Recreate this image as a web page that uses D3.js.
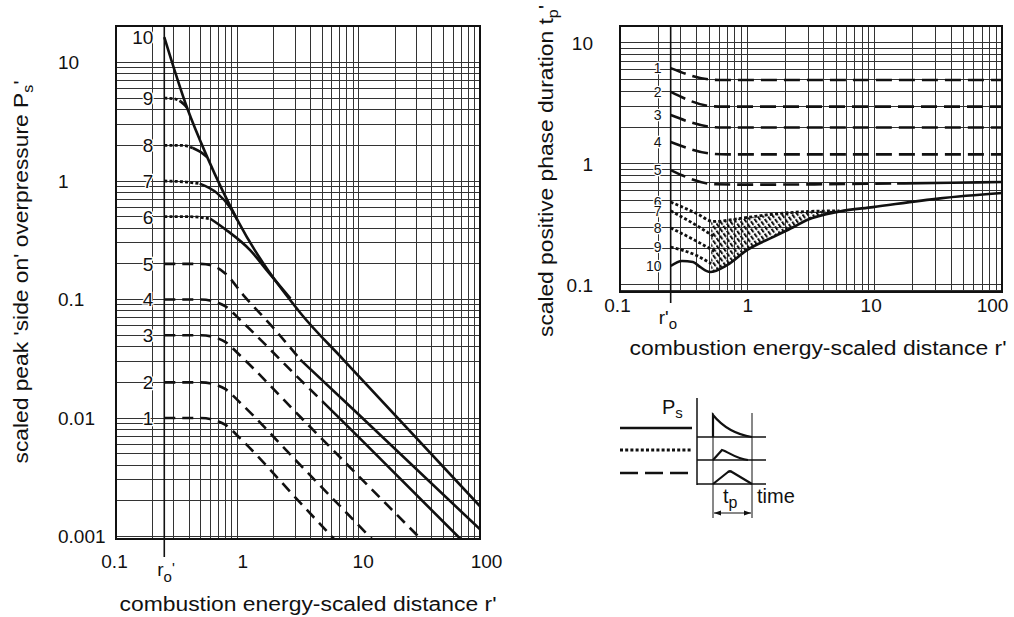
<!DOCTYPE html>
<html>
<head>
<meta charset="utf-8">
<script src="https://cdn.jsdelivr.net/npm/d3@7"></script>
<style>
  body { margin: 0; background: #fff; }
  svg { font-family: "Liberation Sans", Arial, sans-serif; }
</style>
</head>
<body>
<svg id="chart" width="1014" height="617"></svg>
<script>
// Axis ticks
const distTicks = [0.1, 1, 10, 100];
const psTicks = [10, 1, 0.1, 0.01, 0.001];
const tpTicks = [10, 1, 0.1];
const r0 = 0.25;

// Blast strength numbers and where each curve starts (at r0')
const strengths = ["1", "2", "3", "4", "5", "6", "7", "8", "9", "10"];
const psStart = [0.01, 0.02, 0.05, 0.1, 0.2, 0.5, 1, 2, 5, 16.4];
const tpStart = [6.2, 3.94, 2.54, 1.52, 0.89, 0.485, 0.41, 0.296, 0.206, 0.1435];

// Peak overpressure, [r', Ps'] — dashed parts (strength 1..5)
const psDashed = [
  [[0.25, 0.01], [0.5, 0.01], [0.65, 0.0096], [0.8, 0.00875], [1.06, 0.0067], [3.31, 0.00192], [8, 0.00073]],
  [[0.25, 0.02], [0.5, 0.02], [0.65, 0.0192], [0.8, 0.0175], [1.06, 0.0134], [3.31, 0.004], [15, 0.00081]],
  [[0.25, 0.05], [0.5, 0.05], [0.65, 0.048], [0.8, 0.0437], [1.06, 0.0335], [3.31, 0.0102], [40, 0.00077]],
  [[0.25, 0.1], [0.5, 0.1], [0.65, 0.096], [0.8, 0.0875], [1.06, 0.067], [3.31, 0.021], [5, 0.0139]],
  [[0.25, 0.2], [0.5, 0.2], [0.65, 0.19], [0.8, 0.165], [1.12, 0.109], [2, 0.057], [3.31, 0.031]]
];
// dotted parts (strength 6..9)
const psDotted = [
  [[0.25, 0.5], [0.4, 0.5], [0.6, 0.48]],
  [[0.25, 1], [0.38, 0.98], [0.49, 0.95]],
  [[0.25, 2], [0.35, 2], [0.43, 1.9]],
  [[0.25, 5], [0.3, 4.95], [0.34, 4.7]]
];
// solid parts
const psSolid = [
  [[5, 0.0139], [10, 0.0069], [70, 0.00094]],
  [[3.31, 0.031], [10, 0.0107], [100, 0.00115]],
  [[0.6, 0.48], [0.8, 0.39], [1.28, 0.26], [1.8, 0.17], [2.74, 0.102]],
  [[0.49, 0.95], [0.68, 0.79], [0.87, 0.6], [1, 0.47]],
  [[0.43, 1.9], [0.5, 1.75], [0.565, 1.59]],
  [[0.34, 4.7], [0.37, 4.35], [0.386, 4.13]],
  [[0.25, 16.4], [0.386, 4.13], [0.565, 1.59], [1, 0.47], [3.31, 0.077], [7.5, 0.031], [100, 0.0018]]
];

// Positive phase duration, [r', tp'] — dashed parts (strength 1..5)
const tpDashed = [
  [[0.25, 6.2], [0.5, 5.0], [0.6, 4.95], [100, 4.95]],
  [[0.25, 3.94], [0.53, 3.0], [0.65, 2.98], [100, 2.98]],
  [[0.25, 2.54], [0.53, 2.02], [0.65, 2.0], [100, 2.0]],
  [[0.25, 1.52], [0.55, 1.21], [0.7, 1.2], [100, 1.2]],
  [[0.25, 0.89], [0.56, 0.68], [1, 0.675], [15, 0.69]]
];
// dotted parts (strength 6..9)
const tpDotted = [
  [[0.25, 0.485], [0.4, 0.39], [0.54, 0.335], [0.93, 0.358], [1.59, 0.385], [3, 0.405], [5.3, 0.41]],
  [[0.25, 0.41], [0.4, 0.31], [0.55, 0.25]],
  [[0.25, 0.296], [0.4, 0.23], [0.55, 0.19]],
  [[0.25, 0.206], [0.4, 0.175], [0.52, 0.15]]
];
// solid parts (strength 5 far field, strength 10)
const tpSolid5 = [[15, 0.69], [40, 0.7], [100, 0.71]];
const tpSolid10 = [[0.25, 0.1435], [0.307, 0.158], [0.374, 0.155], [0.425, 0.141], [0.509, 0.128],
  [0.693, 0.146], [1, 0.195], [1.59, 0.249], [2.29, 0.3], [2.94, 0.344], [5.3, 0.405],
  [9.7, 0.44], [32.7, 0.52], [100, 0.575]];

const svg = d3.select("#chart");
const defs = svg.append("defs");
const ink = "#111";
const font = "Liberation Sans, Arial, sans-serif";

// Scales
const xL = d3.scaleLog().domain([0.1, 100]).range([116, 480]);
const yL = d3.scaleLog().domain([Math.pow(10, -3.021), Math.pow(10, 1.308)]).range([539, 26]);
const xR = d3.scaleLog().domain([0.1, 100]).range([620, 1002]);
const yR = d3.scaleLog().domain([Math.pow(10, -1.058), Math.pow(10, 1.1405)]).range([292, 26]);

function drawPanel(x, y, clipId, yTicks, yLabelDx, yAnchor, xPad, xDx, r0Bottom) {
  const [x0, x1] = x.range();
  const [yb, yt] = y.range();
  const g = svg.append("g");

  // log grid
  g.append("g").selectAll("line").data(x.ticks()).join("line")
    .attr("x1", d => x(d)).attr("x2", d => x(d))
    .attr("y1", yt).attr("y2", yb)
    .attr("stroke", "#333").attr("stroke-width", 1)
    .attr("shape-rendering", "crispEdges");
  g.append("g").selectAll("line").data(y.ticks()).join("line")
    .attr("x1", x0).attr("x2", x1)
    .attr("y1", d => y(d)).attr("y2", d => y(d))
    .attr("stroke", "#333").attr("stroke-width", 1)
    .attr("shape-rendering", "crispEdges");

  // r0' line runs below the frame
  g.append("line")
    .attr("x1", x(r0)).attr("x2", x(r0))
    .attr("y1", yt).attr("y2", r0Bottom)
    .attr("stroke", ink).attr("stroke-width", 1.6);

  // axes
  const xAxis = d3.axisBottom(x).tickValues(distTicks).tickSize(0).tickPadding(xPad)
    .tickFormat(d3.format("~g"));
  const xg = svg.append("g").attr("transform", `translate(0,${yb})`).call(xAxis);
  xg.select(".domain").remove();
  xg.selectAll("text").attr("font-size", 19).attr("font-family", font).attr("fill", ink)
    .attr("dx", (d, i) => xDx[i]);

  const yAxis = d3.axisLeft(y).tickValues(yTicks).tickSize(0).tickFormat(d3.format("~g"));
  const yg = svg.append("g").attr("transform", `translate(${x0},0)`).call(yAxis);
  yg.select(".domain").remove();
  yg.selectAll("text").attr("font-size", 19).attr("font-family", font)
    .attr("fill", ink).attr("text-anchor", yAnchor).attr("x", yLabelDx);

  defs.append("clipPath").attr("id", clipId).append("rect")
    .attr("x", x0).attr("y", yt).attr("width", x1 - x0).attr("height", yb - yt);

  return g;
}

function frame(x, y) {
  const [x0, x1] = x.range();
  const [yb, yt] = y.range();
  svg.append("rect").attr("x", x0).attr("y", yt).attr("width", x1 - x0).attr("height", yb - yt)
    .attr("fill", "none").attr("stroke", ink).attr("stroke-width", 2);
}

function drawLines(x, y, clipId, list, dash, w) {
  const line = d3.line().x(d => x(d[0])).y(d => y(d[1])).curve(d3.curveMonotoneX);
  svg.append("g").attr("clip-path", `url(#${clipId})`)
    .selectAll("path").data(list).join("path")
    .attr("d", line)
    .attr("fill", "none").attr("stroke", ink).attr("stroke-width", w)
    .attr("stroke-dasharray", dash);
}

function curveLabels(x, y, starts, dx, size) {
  svg.append("g").selectAll("text").data(strengths).join("text")
    .attr("x", x(r0) - dx)
    .attr("y", (d, i) => y(starts[i]))
    .attr("dy", "0.36em")
    .attr("text-anchor", "end")
    .attr("font-family", font)
    .attr("font-size", size).attr("fill", ink)
    .attr("stroke", "#fff").attr("stroke-width", 2.5).attr("paint-order", "stroke")
    .text(d => d);
}

// ---------- left panel: peak overpressure ----------
drawPanel(xL, yL, "clipL", psTicks, -58, "start", 16, [-2, 5, 4, 6], 557);
drawLines(xL, yL, "clipL", psDashed, "11,7", 2.6);
drawLines(xL, yL, "clipL", psDotted, "3,2.2", 2.8);
drawLines(xL, yL, "clipL", psSolid, null, 2.6);
curveLabels(xL, yL, psStart, 11, 19);
frame(xL, yL);

// ---------- right panel: positive phase duration ----------
drawPanel(xR, yR, "clipR", tpTicks, -27, "end", 7, [-3, 0, -4, -10], 303);

// hatched band between strength 6 and strength 10
const hatch = defs.append("pattern").attr("id", "hatch")
  .attr("patternUnits", "userSpaceOnUse").attr("width", 4.2).attr("height", 6)
  .attr("patternTransform", "rotate(-35)");
hatch.append("rect").attr("width", 2).attr("height", 4.5).attr("fill", ink);

const lineR = d3.line().x(d => xR(d[0])).y(d => yR(d[1])).curve(d3.curveMonotoneX);
const above10 = lineR(tpSolid10) + `L${xR(100)},${yR.range()[1]}L${xR(0.25)},${yR.range()[1]}Z`;
defs.append("clipPath").attr("id", "clipAbove10").append("path").attr("d", above10);
defs.append("clipPath").attr("id", "clipBand").append("rect")
  .attr("x", xR(0.52)).attr("y", 26).attr("width", xR(5.3) - xR(0.52)).attr("height", 270);
const c6 = tpDotted[0];
svg.append("g").attr("clip-path", "url(#clipAbove10)")
  .append("path")
  .attr("clip-path", "url(#clipBand)")
  .attr("d", lineR(c6) + `L${xR(c6[c6.length - 1][0])},292L${xR(c6[0][0])},292Z`)
  .attr("fill", "url(#hatch)");

drawLines(xR, yR, "clipR", tpDashed, "16,7", 2.6);
drawLines(xR, yR, "clipR", tpDotted, "3,2.2", 2.8);
drawLines(xR, yR, "clipR", [tpSolid5, tpSolid10], null, 2.6);
curveLabels(xR, yR, tpStart, 9, 14);
frame(xR, yR);

// ---------- titles ----------
function title(x, y, rot, len, main, sub, tail) {
  const t = svg.append("text")
    .attr("transform", `translate(${x},${y}) rotate(${rot})`)
    .attr("text-anchor", "middle").attr("font-size", 20).attr("fill", ink)
    .attr("textLength", len).attr("lengthAdjust", "spacingAndGlyphs");
  t.append("tspan").text(main);
  if (sub) t.append("tspan").attr("dy", 5).attr("font-size", 14).text(sub);
  if (tail) t.append("tspan").attr("dy", sub ? -5 : 0).text(tail);
}
title(28, 272, -90, 383, "scaled peak 'side on' overpressure P", "s", "'");
title(308, 611, 0, 377, "combustion energy-scaled distance r'");
title(553, 171, -90, 332, "scaled positive phase duration t", "p", "'");
title(818, 355, 0, 377, "combustion energy-scaled distance r'");

// r0' labels
const rl = svg.append("text").attr("x", xL(r0) - 7).attr("y", 576).attr("font-size", 19).attr("fill", ink);
rl.append("tspan").text("r");
rl.append("tspan").attr("dy", 6).attr("font-size", 15).text("o");
rl.append("tspan").attr("dy", -9).attr("font-size", 15).text("'");
const rr = svg.append("text").attr("x", xR(r0) - 12).attr("y", 324).attr("font-size", 19).attr("fill", ink);
rr.append("tspan").text("r'");
rr.append("tspan").attr("dy", 5).attr("font-size", 15).text("o");

// ---------- wave-shape legend ----------
const lg = svg.append("g").attr("fill", "none").attr("stroke", ink);
lg.append("line").attr("x1", 620).attr("x2", 692).attr("y1", 428).attr("y2", 428).attr("stroke-width", 2.6);
lg.append("line").attr("x1", 620).attr("x2", 692).attr("y1", 450).attr("y2", 450).attr("stroke-width", 2.8)
  .attr("stroke-dasharray", "3,2.2");
lg.append("line").attr("x1", 620).attr("x2", 692).attr("y1", 473).attr("y2", 473).attr("stroke-width", 2.6)
  .attr("stroke-dasharray", "18,7");
lg.append("line").attr("x1", 697).attr("x2", 697).attr("y1", 398).attr("y2", 485).attr("stroke-width", 1.5);
[437, 460, 484].forEach(yb => {
  lg.append("line").attr("x1", 697).attr("x2", 766).attr("y1", yb).attr("y2", yb).attr("stroke-width", 1.5);
});
lg.append("path").attr("d", "M713,437L713,415C722,426 733,434 752,437").attr("stroke-width", 2.2);
lg.append("path").attr("d", "M713,460L722,450C729,452 736,459 748,460").attr("stroke-width", 2.2);
lg.append("path").attr("d", "M713,484L728,472Q730,470.5 732,472L752,484").attr("stroke-width", 2.2);
lg.append("line").attr("x1", 713).attr("x2", 713).attr("y1", 413).attr("y2", 518).attr("stroke-width", 1);
lg.append("line").attr("x1", 752).attr("x2", 752).attr("y1", 413).attr("y2", 518).attr("stroke-width", 1);
lg.append("line").attr("x1", 714).attr("x2", 751).attr("y1", 513).attr("y2", 513).attr("stroke-width", 1.2);
lg.append("path").attr("d", "M714,513L721,510.5L721,515.5Z M751,513L744,510.5L744,515.5Z")
  .attr("fill", ink).attr("stroke", "none");

const ps = svg.append("text").attr("x", 662).attr("y", 414).attr("font-size", 20).attr("fill", ink);
ps.append("tspan").text("P");
ps.append("tspan").attr("dy", 4).attr("font-size", 15).text("s");
const tp = svg.append("text").attr("x", 723).attr("y", 503).attr("font-size", 20).attr("fill", ink);
tp.append("tspan").text("t");
tp.append("tspan").attr("dy", 5).attr("font-size", 16).text("p");
svg.append("text").attr("x", 757).attr("y", 503).attr("font-size", 20).attr("fill", ink).text("time");
</script>
</body>
</html>
